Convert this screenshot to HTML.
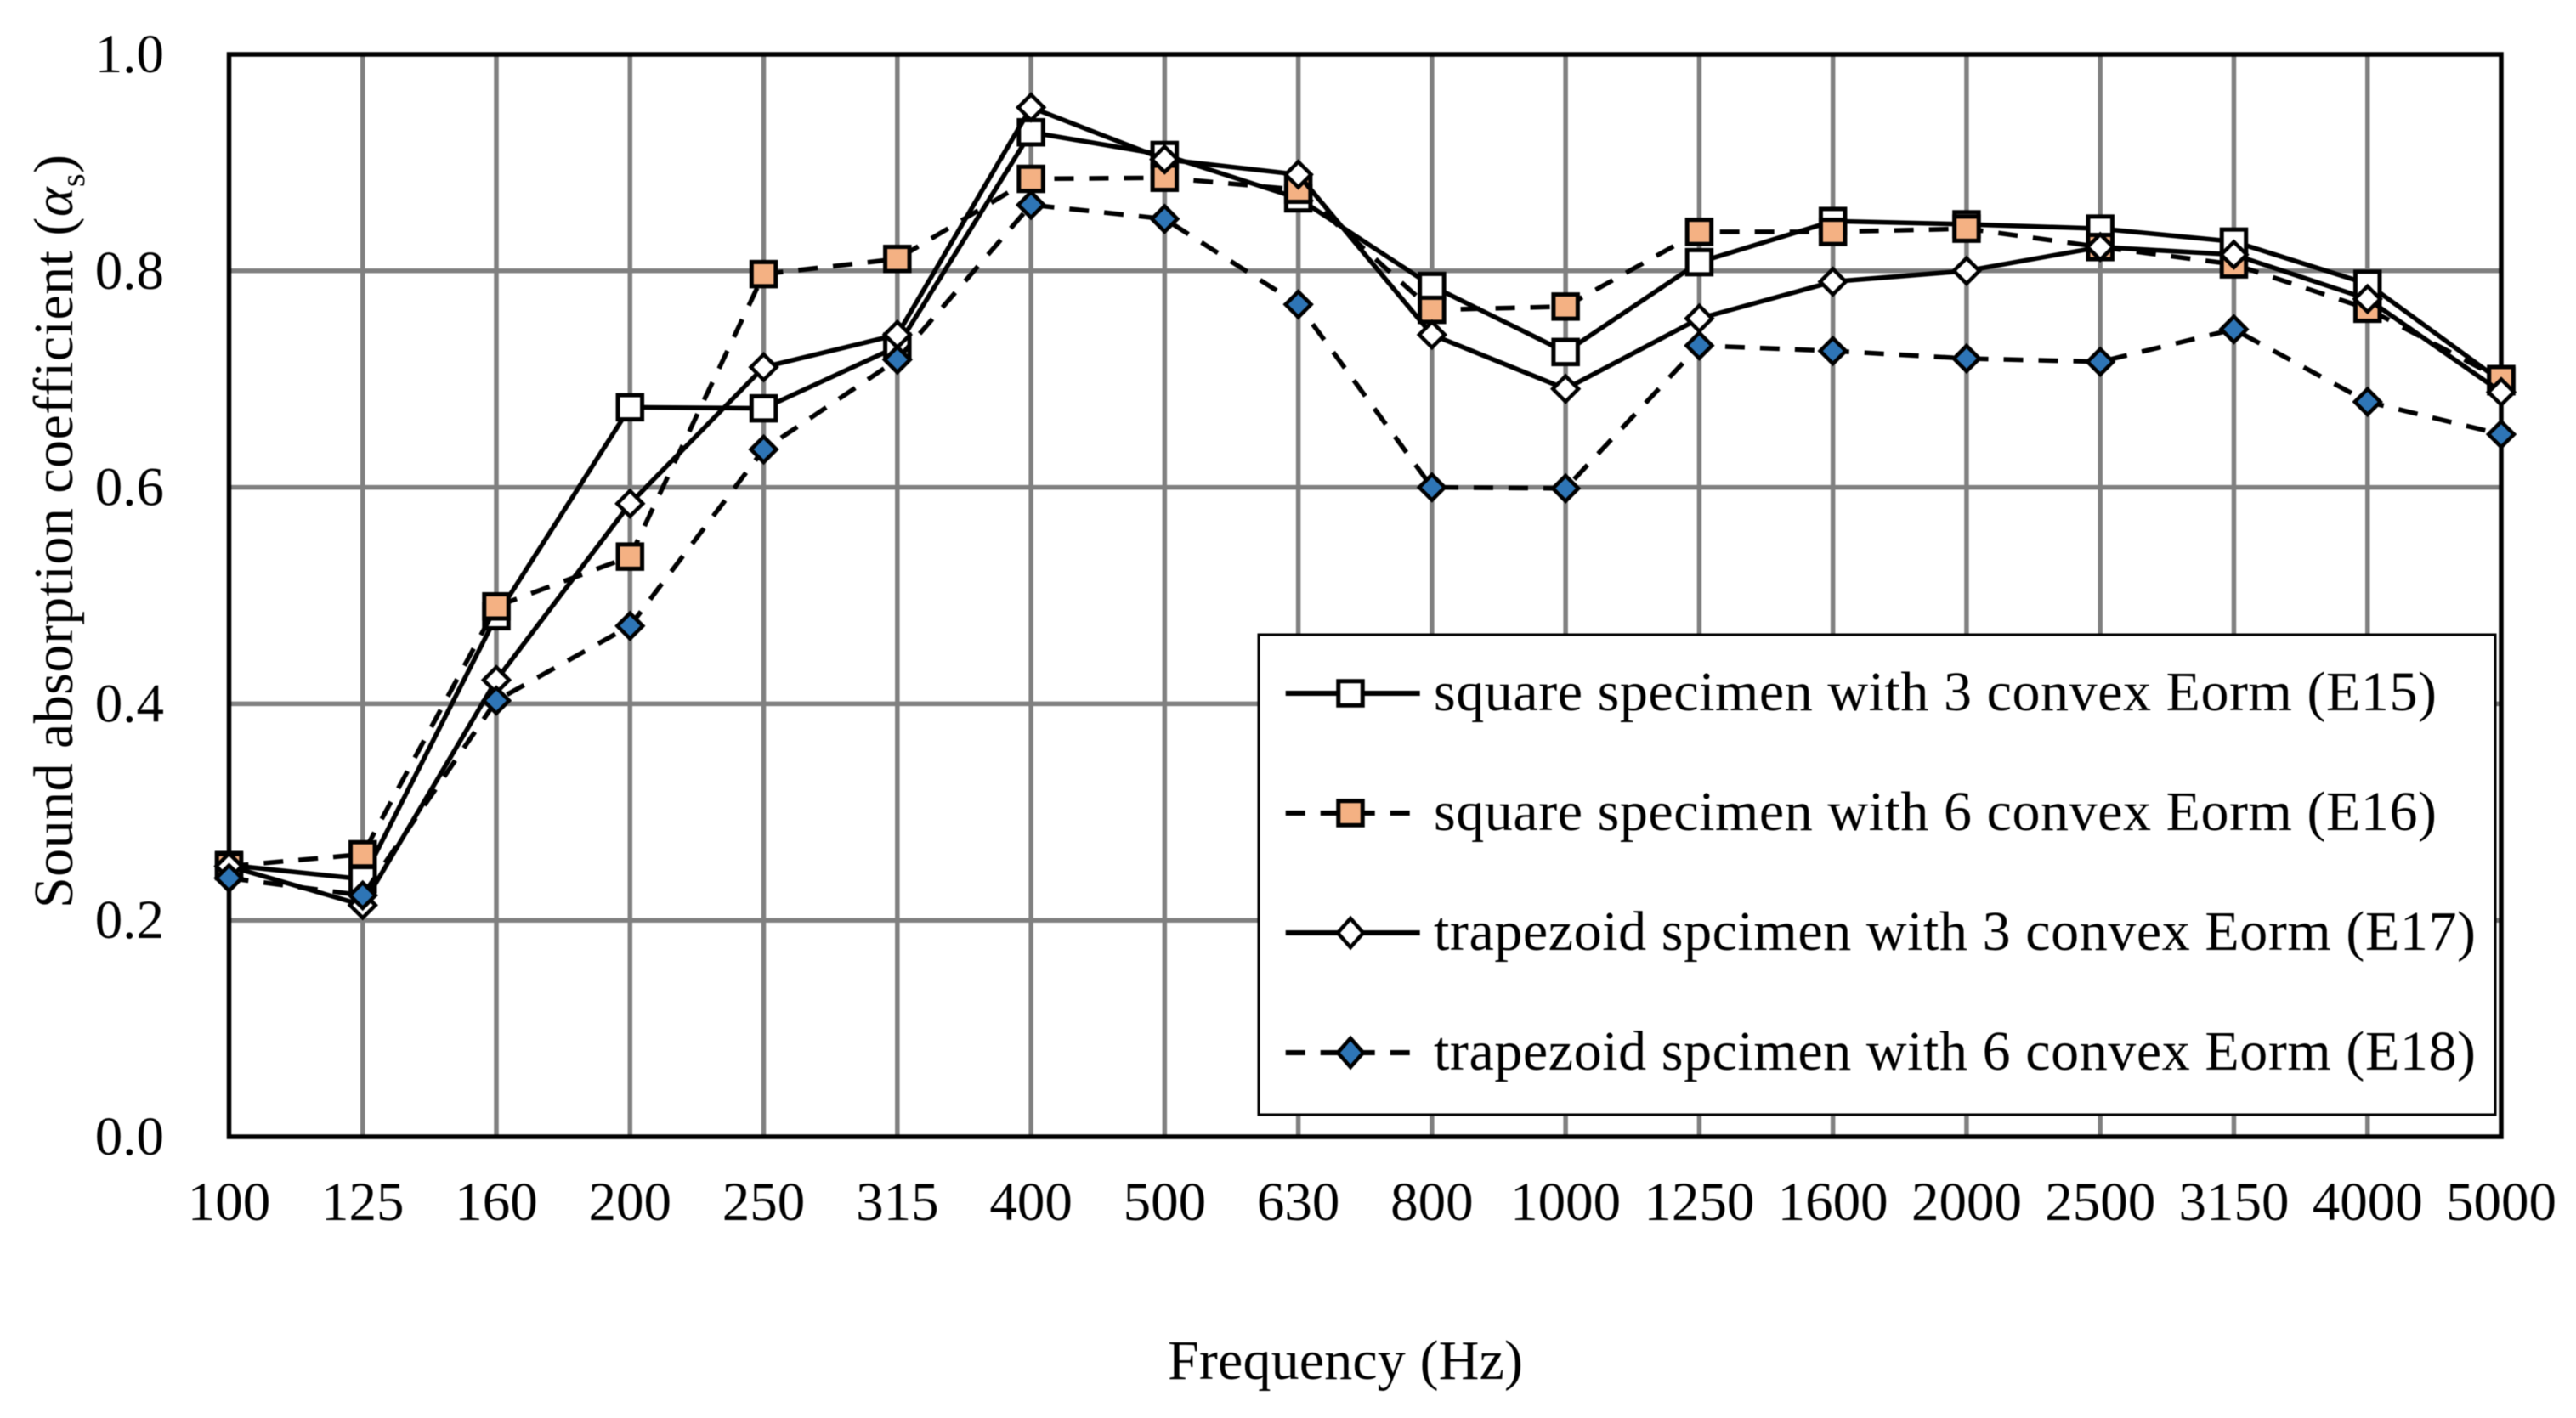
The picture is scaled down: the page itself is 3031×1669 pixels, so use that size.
<!DOCTYPE html>
<html lang="en">
<head>
<meta charset="utf-8">
<title>Sound absorption coefficient chart</title>
<style>
  html, body { margin: 0; padding: 0; background: #fff; width: 3031px; height: 1669px; overflow: hidden; }
  svg { display: block; filter: blur(0.6px); }
  text { font-family: "Liberation Serif", "DejaVu Serif", serif; fill: #000; }
</style>
</head>
<body>
<svg id="chart" xmlns="http://www.w3.org/2000/svg" width="3031" height="1669" viewBox="0 0 3031 1669">
  <rect x="0" y="0" width="3031" height="1669" fill="#ffffff"/>
  <g id="grid"></g>
  <g id="ticks"></g>
  <rect x="269.5" y="64" width="2673.5" height="1274" fill="none" stroke="#000000" stroke-width="5.5"/>
  <g id="series"></g>
  <text x="1374" y="1623" font-size="66" textLength="418" lengthAdjust="spacing">Frequency (Hz)</text>
  <text transform="translate(85,1069) rotate(-90)" font-size="66" textLength="887" lengthAdjust="spacing">Sound absorption coefficient (<tspan font-style="italic">α</tspan><tspan font-size="40" dy="14">s</tspan><tspan dy="-14">)</tspan></text>
  <g id="legend">
    <rect x="1481" y="747" width="1455" height="565" fill="#ffffff" stroke="#000000" stroke-width="3"/>
  </g>
</svg>
<script>
const categories = ['100','125','160','200','250','315','400','500','630','800','1000','1250','1600','2000','2500','3150','4000','5000'];
const yTicks = [0.0, 0.2, 0.4, 0.6, 0.8, 1.0];
const e15Values = [0.251,0.238,0.481,0.674,0.673,0.730,0.928,0.907,0.867,0.786,0.725,0.808,0.846,0.843,0.839,0.827,0.788,0.698];
const e16Values = [0.250,0.261,0.490,0.536,0.797,0.811,0.885,0.886,0.875,0.764,0.767,0.836,0.836,0.839,0.822,0.806,0.765,0.700];
const e17Values = [0.250,0.214,0.422,0.585,0.711,0.741,0.951,0.903,0.889,0.741,0.691,0.756,0.790,0.800,0.822,0.815,0.774,0.688];
const e18Values = [0.239,0.223,0.403,0.472,0.635,0.718,0.861,0.848,0.769,0.600,0.599,0.731,0.726,0.719,0.716,0.746,0.679,0.649];
const seriesLabels = [
  'square specimen with 3 convex Eorm (E15)',
  'square specimen with 6 convex Eorm (E16)',
  'trapezoid spcimen with 3 convex Eorm (E17)',
  'trapezoid spcimen with 6 convex Eorm (E18)'
];

const NS = 'http://www.w3.org/2000/svg';
const PLOT = { left: 269.5, right: 2943, top: 64, bottom: 1338 };

function xScale(i) {
  return PLOT.left + (PLOT.right - PLOT.left) * i / (categories.length - 1);
}
function yScale(v) {
  return PLOT.bottom - (PLOT.bottom - PLOT.top) * v;
}
function make(parent, tag, name, attrs) {
  const el = document.createElementNS(NS, tag);
  
  
  for (const k in attrs) el.setAttribute(k, attrs[k]);
  parent.appendChild(el);
  return el;
}
function marker(parent, shape, fill, cx, cy, name, tall) {
  if (shape === 'square') {
    make(parent, 'rect', name, { x: cx - 14.25, y: cy - 14.25, width: 28.5, height: 28.5, fill: fill, stroke: '#000', 'stroke-width': 5 });
  } else {
    const rx = 15;
    const ry = tall ? 17 : 15;
    make(parent, 'polygon', name, {
      points: cx + ',' + (cy - ry) + ' ' + (cx + rx) + ',' + cy + ' ' + cx + ',' + (cy + ry) + ' ' + (cx - rx) + ',' + cy,
      fill: fill, stroke: '#000', 'stroke-width': 4.5
    });
  }
}

const gridG = document.getElementById('grid');
const tickG = document.getElementById('ticks');
categories.forEach(function (c, i) {
  if (i > 0 && i < categories.length - 1) {
    make(gridG, 'line', 'vertical-gridline-' + c, { x1: xScale(i), x2: xScale(i), y1: PLOT.top, y2: PLOT.bottom, stroke: '#808080', 'stroke-width': 5.5 });
  }
  const t = make(tickG, 'text', 'x-tick-' + c, { x: xScale(i), y: 1436, 'font-size': 65, 'text-anchor': 'middle' });
  t.textContent = c;
});
yTicks.forEach(function (v) {
  const lab = v.toFixed(1);
  if (v > 0 && v < 1) {
    make(gridG, 'line', 'horizontal-gridline-' + lab, { x1: PLOT.left, x2: PLOT.right, y1: yScale(v), y2: yScale(v), stroke: '#808080', 'stroke-width': 5.5 });
  }
  const t = make(tickG, 'text', 'y-tick-' + lab, { x: 193, y: yScale(v) + 21, 'font-size': 65, 'text-anchor': 'end' });
  t.textContent = lab;
});

const seriesDefs = [
  { id: 'e15', values: e15Values, dashed: false, shape: 'square', fill: '#ffffff' },
  { id: 'e16', values: e16Values, dashed: true, shape: 'square', fill: '#F4B183' },
  { id: 'e17', values: e17Values, dashed: false, shape: 'diamond', fill: '#ffffff' },
  { id: 'e18', values: e18Values, dashed: true, shape: 'diamond', fill: '#2E75B6' }
];

const seriesG = document.getElementById('series');
seriesDefs.forEach(function (s) {
  const g = make(seriesG, 'g', 'series-' + s.id, {});
  const pts = s.values.map(function (v, i) { return xScale(i) + ',' + yScale(v); }).join(' ');
  const attrs = { points: pts, fill: 'none', stroke: '#000', 'stroke-width': 5.5, 'stroke-linejoin': 'round' };
  if (s.dashed) attrs['stroke-dasharray'] = '23 18';
  make(g, 'polyline', 'line-' + s.id, attrs);
  s.values.forEach(function (v, i) {
    marker(g, s.shape, s.fill, xScale(i), yScale(v), 'point-' + s.id + '-' + categories[i], false);
  });
});

const legendG = document.getElementById('legend');
const legendRowY = [816, 957, 1098, 1239];
const legendTextWidth = [1180, 1180, 1226, 1226];
seriesDefs.forEach(function (s, i) {
  const y = legendRowY[i];
  const g = make(legendG, 'g', 'legend-entry-' + s.id, {});
  const attrs = { x1: 1512.7, x2: s.dashed ? 1659 : 1670.7, y1: y, y2: y, stroke: '#000', 'stroke-width': 6 };
  if (s.dashed) attrs['stroke-dasharray'] = '23 18';
  make(g, 'line', 'legend-line-' + s.id, attrs);
  marker(g, s.shape, s.fill, 1589, y, 'legend-marker-' + s.id, true);
  const t = make(g, 'text', 'legend-label-' + s.id, { x: 1687, y: y + 20, 'font-size': 66, textLength: legendTextWidth[i], lengthAdjust: 'spacing' });
  t.textContent = seriesLabels[i];
});
</script>
</body>
</html>
